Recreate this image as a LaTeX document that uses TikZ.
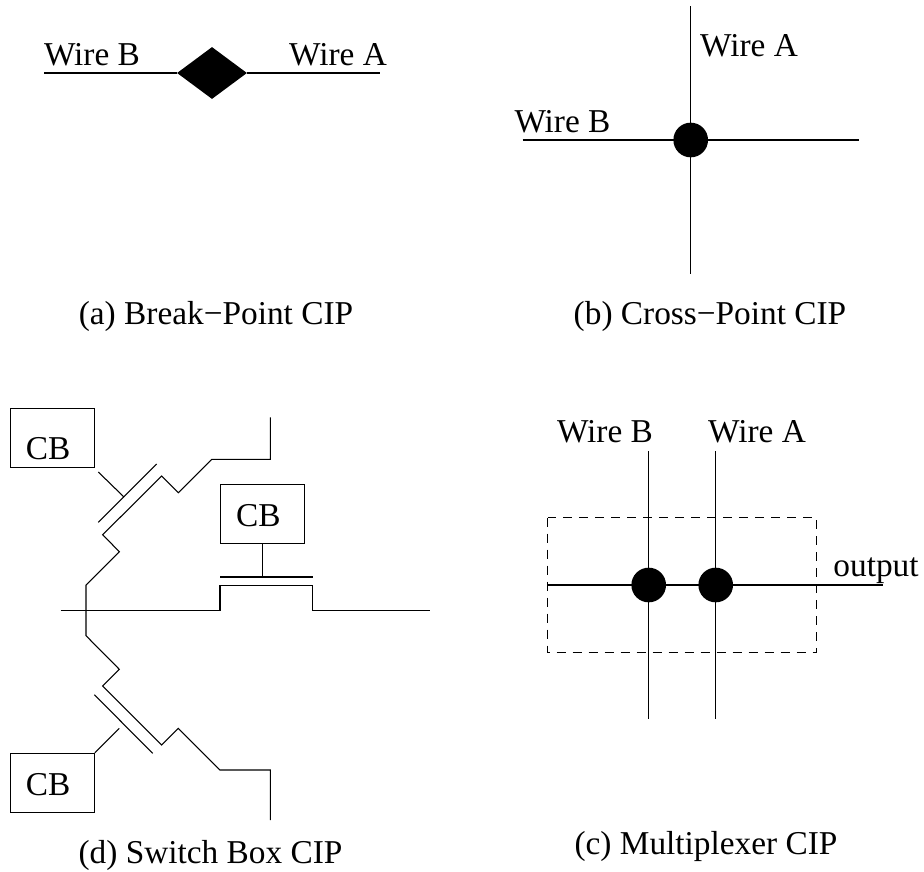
\documentclass[tikz,border=0pt]{standalone}
\usepackage{fontspec}
\setmainfont{Liberation Serif}
\usetikzlibrary{shapes.geometric}
\tikzset{
  wire/.style={line width=.8pt},
  cbbox/.style={draw,line width=.8pt,inner sep=0pt,minimum width=63.2pt,minimum height=44.2pt},
  lbl/.style={inner sep=0pt,anchor=base,font=\fontsize{25}{28}\selectfont},
  dot/.style={circle,fill=black,inner sep=0pt,minimum size=26pt},
}
\begin{document}
\begin{tikzpicture}[x=.75pt,y=-.75pt]
  \useasboundingbox (0,0) rectangle (924,871);

  % break point
  \begin{scope}
    \node [diamond,fill=black,inner sep=0pt,minimum width=52.5pt,minimum height=39pt] (brk) at (212,73) {};
    \coordinate (brkl) at (44,73);
    \coordinate (brkr) at (380,73);
    \draw [wire] (brkl) -- (brk);
    \draw [wire] (brk) -- (brkr);
    \node [lbl] (brkb) at (92,65) {Wire B};
    \node [lbl] (brka) at (338,65) {Wire A};
    \node [lbl] (brkcap) at (216,324.5) {(a) Break−Point CIP};
  \end{scope}

  % cross point
  \begin{scope}
    \node [dot] (crs) at (690.7,140) {};
    \coordinate (crst) at (690.7,6);
    \coordinate (crsb) at (690.7,274);
    \coordinate (crsl) at (522.7,140);
    \coordinate (crsr) at (858.7,140);
    \draw [wire] (crst) -- (crsb);
    \draw [wire] (crsl) -- (crsr);
    \node [lbl] (crsa) at (749,56) {Wire A};
    \node [lbl] (crsb2) at (562.5,132) {Wire B};
    \node [lbl] (crscap) at (710,324.5) {(b) Cross−Point CIP};
  \end{scope}

  % switch box
  \begin{scope}
    \node [cbbox] (cbtop) at (52.2,438.3) {};
    \node [cbbox] (cbmid) at (262.2,513.8) {};
    \node [cbbox] (cbbot) at (52.2,782.8) {};
    \node [lbl] (cbtopl) at (48,459.3) {CB};
    \node [lbl] (cbmidl) at (258.3,526.7) {CB};
    \node [lbl] (cbbotl) at (48,795) {CB};

    \draw [wire] (270.3,417.3) -- (270.3,459.3) -- (211.7,459.3) -- (178.3,492.7)
      -- (161.7,476) -- (102.7,534.7) -- (119.3,551.7) -- (86,585) -- (86,635.7)
      -- (119.3,669.3) -- (102.7,686) -- (161.7,745) -- (178.3,728.3) -- (220,770)
      -- (270.3,770) -- (270.3,820);
    \draw [wire] (60.7,610.3) -- (220,610.3) -- (220,585.3) -- (312.7,585.3)
      -- (312.7,610.3) -- (430,610.3);

    \coordinate (gatel) at (220,577);
    \coordinate (gater) at (312.7,577);
    \coordinate (gatem) at (262.3,577);
    \draw [wire] (gatel) -- (gater);
    \draw [wire] (cbmid.south -| gatem) -- (gatem);

    \coordinate (gtopa) at (98.3,522.3);
    \coordinate (gtopb) at (156.7,464);
    \coordinate (gbota) at (94.3,694.7);
    \coordinate (gbotb) at (152.7,753.3);
    \draw [wire] (gtopa) -- (gtopb);
    \draw [wire] (98.3,472) -- (124,497);
    \draw [wire] (gbota) -- (gbotb);
    \draw [wire] (cbbot.north east) -- (119.3,728.3);

    \node [lbl] (swcap) at (210.5,863) {(d) Switch Box CIP};
  \end{scope}

  % multiplexer
  \begin{scope}
    \node [dot] (mxb) at (648.7,585) {};
    \node [dot] (mxa) at (715.7,585) {};
    \draw [line width=.9pt,dash pattern=on 6.75pt off 5.25pt] (547.7,517.7) rectangle (816.7,652.7);
    \draw [wire] (648.7,451) -- (648.7,719.3);
    \draw [wire] (715.7,451) -- (715.7,719.3);
    \draw [wire] (547.7,585) -- (883.3,585);
    \node [lbl] (mxbl) at (605,442.7) {Wire B};
    \node [lbl] (mxal) at (757,442.7) {Wire A};
    \node [lbl] (mxout) at (876,576.7) {output};
    \node [lbl] (mxcap) at (706,854) {(c) Multiplexer CIP};
  \end{scope}
\end{tikzpicture}
\end{document}
